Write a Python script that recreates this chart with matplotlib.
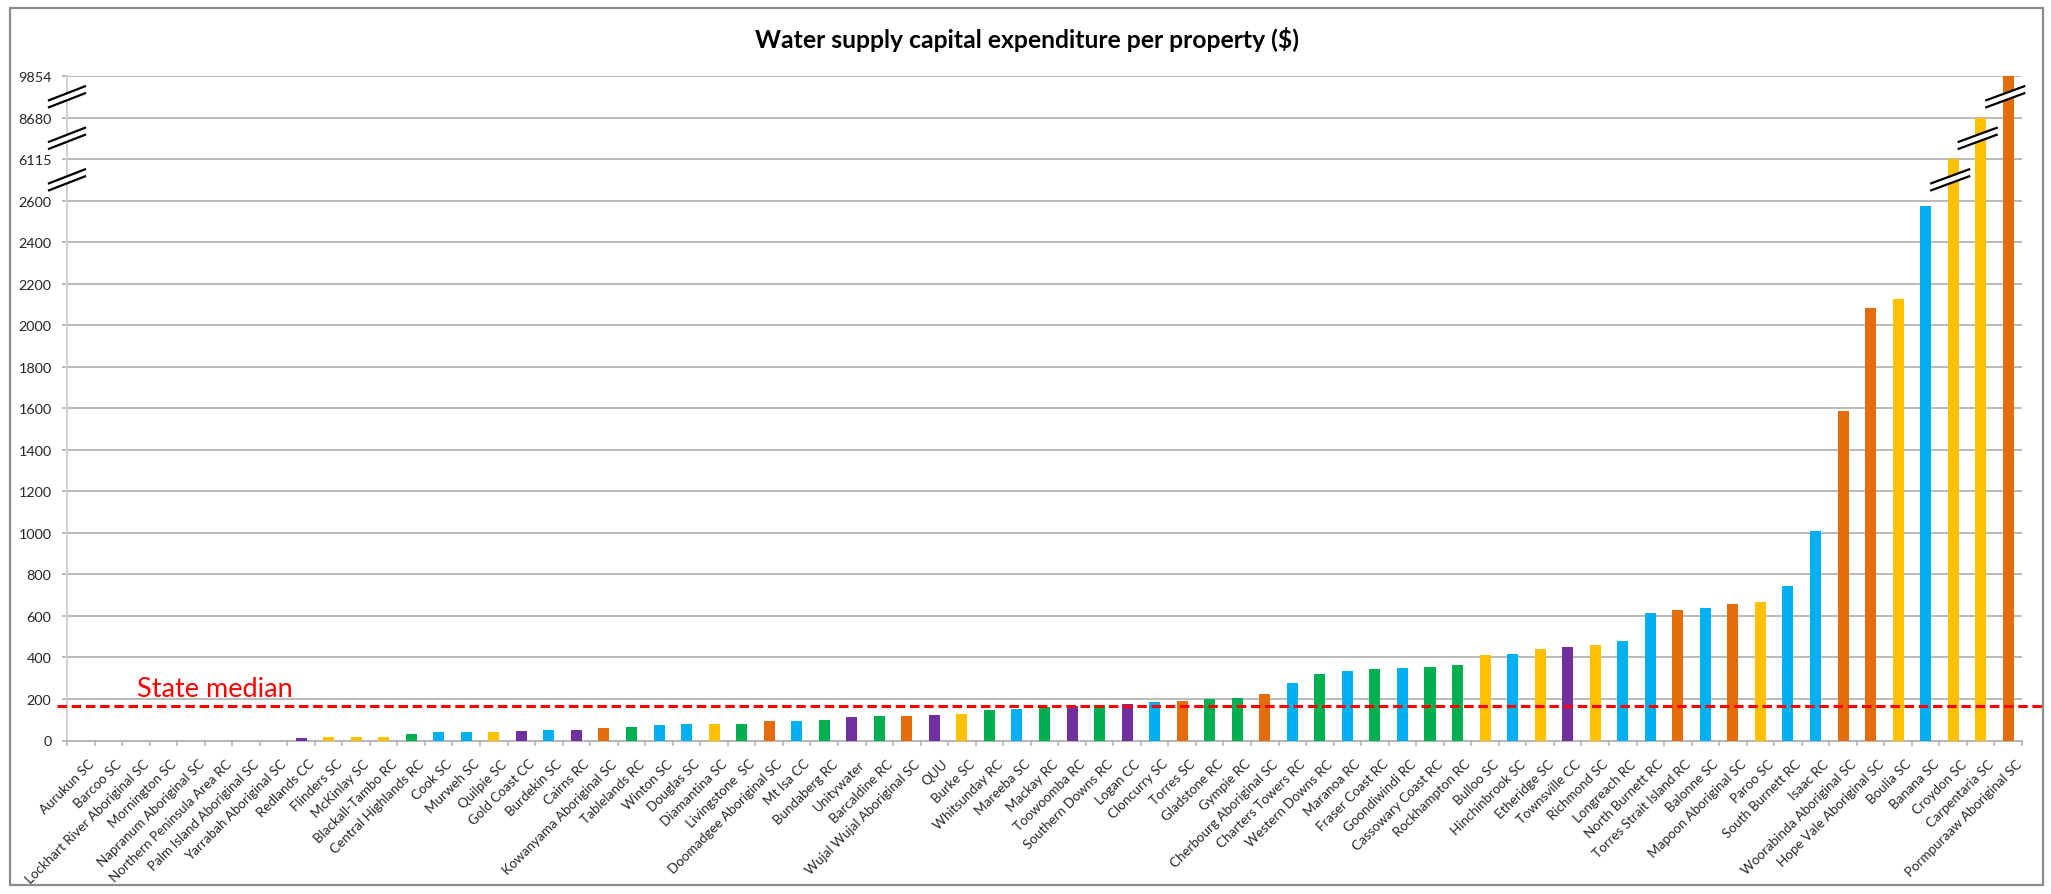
import numpy as np
import matplotlib
matplotlib.use("Agg")
import matplotlib.pyplot as plt
from matplotlib.patches import Rectangle, Polygon
from matplotlib.lines import Line2D
import matplotlib.transforms as mtransforms

plt.rcParams['font.family'] = ['Lato', 'DejaVu Sans']

# ---------------- data ----------------
councils = [
    "Aurukun SC", "Barcoo SC", "Lockhart River Aboriginal SC", "Mornington SC",
    "Napranum Aboriginal SC", "Northern Peninsula Area RC", "Palm Island Aboriginal SC",
    "Yarrabah Aboriginal SC", "Redlands CC", "Flinders SC", "McKinlay SC",
    "Blackall-Tambo RC", "Central Highlands RC", "Cook SC", "Murweh SC", "Quilpie SC",
    "Gold Coast CC", "Burdekin SC", "Cairns RC", "Kowanyama Aboriginal SC",
    "Tablelands RC", "Winton SC", "Douglas SC", "Diamantina SC", "Livingstone  SC",
    "Doomadgee Aboriginal SC", "Mt Isa CC", "Bundaberg RC", "Unitywater",
    "Barcaldine RC", "Wujal Wujal Aboriginal SC", "QUU", "Burke SC", "Whitsunday RC",
    "Mareeba SC", "Mackay RC", "Toowoomba RC", "Southern Downs RC", "Logan CC",
    "Cloncurry SC", "Torres SC", "Gladstone RC", "Gympie RC",
    "Cherbourg Aboriginal SC", "Charters Towers RC", "Western Downs RC", "Maranoa RC",
    "Fraser Coast RC", "Goondiwindi RC", "Cassowary Coast RC", "Rockhampton RC",
    "Bulloo SC", "Hinchinbrook SC", "Etheridge SC", "Townsville CC", "Richmond SC",
    "Longreach RC", "North Burnett RC", "Torres Strait Island RC", "Balonne SC",
    "Mapoon Aboriginal SC", "Paroo SC", "South Burnett RC", "Isaac RC",
    "Woorabinda Aboriginal SC", "Hope Vale Aboriginal SC", "Boulia SC", "Banana SC",
    "Croydon SC", "Carpentaria SC", "Pormpuraaw Aboriginal SC",
]

capex = [
    0, 0, 0, 0, 0, 0, 0, 0, 10, 19, 19, 19, 32, 43, 42, 42, 45, 50, 50, 58,
    63, 75, 80, 80, 80, 93, 93, 101, 111, 116, 120, 124, 128, 146, 151, 161,
    164, 169, 178, 183, 190, 202, 207, 222, 275, 318, 337, 345, 350, 355, 363,
    411, 416, 443, 451, 459, 477, 613, 628, 636, 659, 668, 742, 1010, 1587,
    2082, 2124, 2575, 6115, 8680, 9854,
]

# group (colour category) of each council
group = [
    "P", "P", "P", "P", "P", "P", "P", "P", "P", "Y", "Y", "Y", "G", "B", "B", "Y",
    "P", "B", "P", "O", "G", "B", "B", "Y", "G", "O", "B", "G", "P", "G", "O", "P",
    "Y", "G", "B", "G", "P", "G", "P", "B", "O", "G", "G", "O", "B", "G", "B", "G",
    "B", "G", "G", "Y", "B", "Y", "P", "Y", "B", "B", "O", "B", "O", "Y", "B", "B",
    "O", "O", "Y", "B", "Y", "Y", "O",
]

state_median = 168

y_ticks = [0, 200, 400, 600, 800, 1000, 1200, 1400, 1600, 1800, 2000, 2200, 2400,
           2600, 6115, 8680, 9854]

# axis break mapping (value -> drawn height)
break_in = [0, 2600, 6115, 8680, 9854]
break_out = [0, 2600, 2800, 3000, 3200]

title = "Water supply capital expenditure per property ($)"

# ---------------- style ----------------
palette = {"B": "#00B0F0", "G": "#00B050", "O": "#E46C0A", "Y": "#FFC000", "P": "#7030A0"}
grid_c = "#B4B4B4"

W, H = 2051, 895
fig = plt.figure(figsize=(W / 100, H / 100), dpi=100)
ax = fig.add_axes([67 / W, 1 - 741.5 / H, (2022 - 67) / W, (741.5 - 77) / H])


def fwd(v):
    return np.interp(v, break_in, break_out)


def inv(v):
    return np.interp(v, break_out, break_in)


ax.set_yscale('function', functions=(fwd, inv))

x = np.arange(len(councils))
colors = [palette[g] for g in group]
ax.bar(x, capex, width=0.4, color=colors, zorder=3)

ax.set_xlim(-0.5, len(councils) - 0.5)
ax.set_ylim(0, 9854)
ax.set_yticks(y_ticks)
ax.set_yticklabels([str(t) for t in y_ticks])
ax.yaxis.set_minor_locator(matplotlib.ticker.NullLocator())
ax.grid(axis='y', color=grid_c, linewidth=1.3, zorder=0)
ax.set_axisbelow(True)

ax.set_xticks(x)
ax.set_xticklabels(councils, rotation=45, ha='right', rotation_mode='anchor',
                   fontsize=9.6, color='#262626')
ax.set_xticks(np.arange(-0.5, len(councils), 1), minor=True)
ax.tick_params(axis='x', which='major', length=0, pad=9)
ax.tick_params(axis='x', which='minor', length=3.5, color=grid_c, width=1.2)
ax.tick_params(axis='y', length=3.6, color=grid_c, width=1.3, labelsize=10.4,
               labelcolor='#262626', pad=7.5)
shift = mtransforms.ScaledTranslation(7 / 100, -4 / 100, fig.dpi_scale_trans)
for lbl in ax.get_xticklabels():
    lbl.set_transform(lbl.get_transform() + shift)

for s in ['top', 'right']:
    ax.spines[s].set_visible(False)
ax.spines['left'].set_color('#CFCFCF')
ax.spines['left'].set_linewidth(1.4)
ax.spines['bottom'].set_color(grid_c)
ax.spines['bottom'].set_linewidth(1.3)

# title
fig.text(1027 / W, 1 - 39 / H, title, ha='center', va='center', fontsize=17.8,
         fontweight='bold', color='#000000')

# state median line across the chart area
blend = mtransforms.blended_transform_factory(fig.transFigure, ax.transData)
fig.add_artist(Line2D([57 / W, 2043 / W], [state_median, state_median], transform=blend,
                      color='#FF0000', linewidth=2.2, dashes=(3.1, 1.55), zorder=5))
fig.text(137 / W, 0, "State median", color='#FF0000', fontsize=19.5,
         ha='left', va='baseline', transform=blend)
fig.texts[-1].set_position((137 / W, 213))

# break marks
fig.canvas.draw()


def break_mark(cx, cy, half_w=19, rise=13, gap=7):
    # cx, cy in display pixels (origin bottom-left); centre of the mark
    p1 = (cx - half_w, cy - rise / 2 + gap / 2)
    p2 = (cx + half_w, cy + rise / 2 + gap / 2)
    q1 = (p1[0], p1[1] - gap)
    q2 = (p2[0], p2[1] - gap)
    to_f = lambda p: (p[0] / W, p[1] / H)
    poly = Polygon([to_f(p1), to_f(p2), to_f(q2), to_f(q1)], closed=True,
                   transform=fig.transFigure, facecolor='white', edgecolor='none',
                   zorder=10)
    fig.add_artist(poly)
    for a, b in [(p1, p2), (q1, q2)]:
        fig.add_artist(Line2D([a[0] / W, b[0] / W], [a[1] / H, b[1] / H],
                              transform=fig.transFigure, color='black',
                              linewidth=1.6, zorder=11))


break_vals = [inv((break_out[i] + break_out[i + 1]) / 2) for i in range(1, len(break_out) - 1)]
axis_x_disp = ax.transAxes.transform((0, 0))[0]
for bv in break_vals:
    cy = ax.transData.transform((0, bv))[1]
    break_mark(axis_x_disp, cy, half_w=18, rise=14)

for i, v in enumerate(capex):
    for k, bv in enumerate(break_vals):
        if v > bv and v == break_in[k + 2]:
            cx, cy = ax.transData.transform((i, bv))
            break_mark(cx - 3, cy, half_w=19, rise=14)

# outer border
fig.add_artist(Rectangle((10 / W, 9 / H), (2043 - 10) / W, (886 - 9) / H,
                         transform=fig.transFigure, fill=False, edgecolor='#8C8C8C',
                         linewidth=1.6, zorder=20))

fig.savefig("out.png", dpi=100)
